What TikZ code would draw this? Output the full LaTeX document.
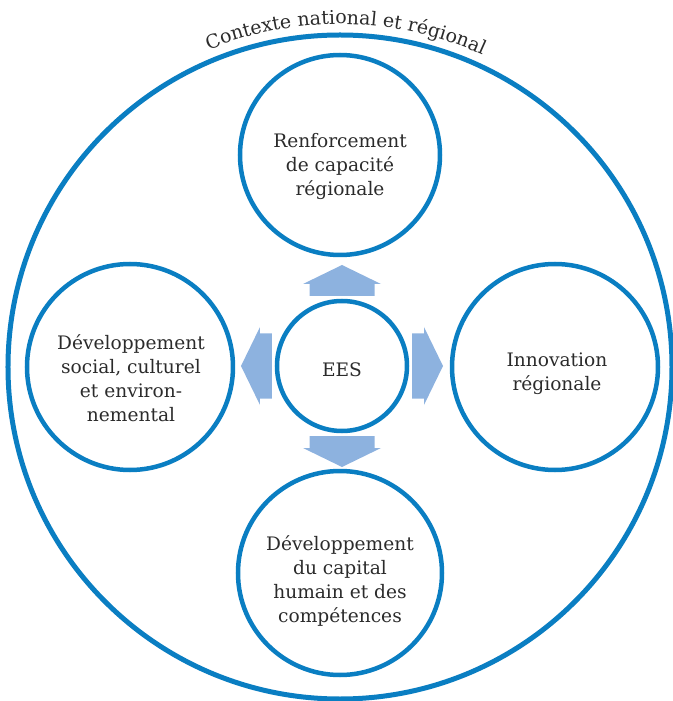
\documentclass[tikz,border=0pt]{standalone}
\usepackage{fontspec}
\setmainfont{DejaVu Serif}
\usetikzlibrary{decorations.text}
\definecolor{eesblue}{HTML}{0A7EC2}
\definecolor{eesarrow}{HTML}{8DB2DF}
\definecolor{eestext}{HTML}{2B2B2B}
\tikzset{
  ring/.style={circle, draw=eesblue, line width=4.5pt, inner sep=0pt},
  lbl/.style={align=center, text=eestext, font=\fontsize{18.6}{24}\selectfont},
  flow/.style={fill=eesarrow}
}

\begin{document}
\begin{tikzpicture}[x=1pt,y=1pt]
\useasboundingbox (-340,-334) rectangle (332,367);
% context ring and its title
\node[ring, line width=5pt, minimum size=664pt] (ctx) at (0,0) {};
\path[decorate, decoration={text along path, text align=center,
  text color=eestext, text={|\fontsize{19}{22}\selectfont|Contexte national et régional}}]
  (134:343) arc[start angle=134, end angle=44, radius=343];

% centre
\node[ring, minimum size=130pt] (ees) at (2,1) {};
\node[lbl] (eestxt) at (2,-3) {EES};

% four outer circles
\node[ring, minimum size=200pt] (capa) at (0,212) {};
\node[lbl] (capatxt) at (0,200) {Renforcement\\de capacité\\régionale};
\node[ring, minimum size=206pt] (innov) at (215,0) {};
\node[lbl] (innovtxt) at (217,-7) {Innovation\\régionale};
\node[ring, minimum size=204pt] (human) at (0,-206) {};
\node[lbl] (humantxt) at (0,-214) {Développement\\du capital\\humain et des\\compétences};
\node[ring, minimum size=206pt] (social) at (-210,0) {};
\node[lbl] (socialtxt) at (-209,-11) {Développement\\social, culturel\\et environ-\\nemental};

% block arrows
\foreach \a in {0,90,180,270}
  \fill[flow, shift={(ees.center)}, rotate=\a]
    (70,-32.5) -- (82,-32.5) -- (82,-39) -- (101,0) -- (82,39) -- (82,32.5) -- (70,32.5) -- cycle;
\end{tikzpicture}
\end{document}
